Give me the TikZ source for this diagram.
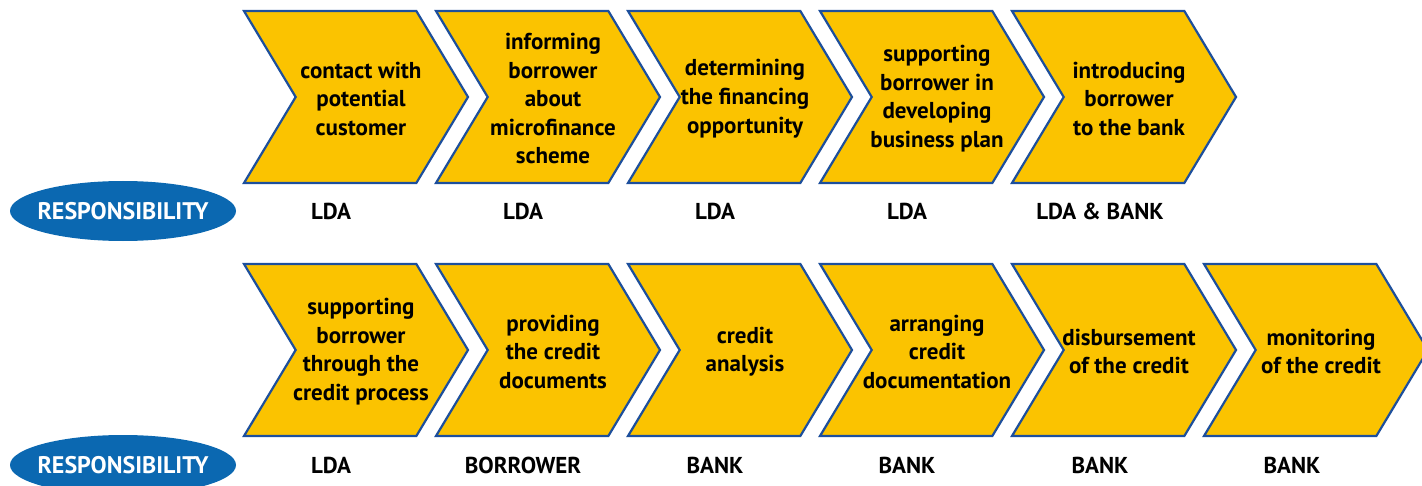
\documentclass[tikz,border=0pt]{standalone}
\usepackage{fontspec}
\setmainfont{PT Sans}
\usetikzlibrary{shapes.symbols,shapes.geometric}
\definecolor{stepyellow}{HTML}{FBC300}
\definecolor{stepblue}{HTML}{1D4F9C}
\definecolor{respblue}{HTML}{0B68B1}
\begin{document}
\begin{tikzpicture}
[x=0.5pt, y=-0.5pt,
every node/.style = {align=center, font=\fontsize{11.5}{14.3}\selectfont\bfseries},
stepbox/.style = {shape=signal, signal from=west, signal to=east,
	signal pointer angle=118, draw=stepblue, line width=1.1pt,
	fill=stepyellow, minimum width=112pt, minimum height=86pt, inner sep=0pt,
	label={[xshift=2.5pt, yshift=-0.8pt]center:#1}},
respbox/.style = {shape=ellipse, fill=respblue, text=white, inner sep=-8pt,
	minimum width=113pt, minimum height=30pt,
	font=\fontsize{12}{14}\selectfont\bfseries}]
  \useasboundingbox (0,0) rectangle (1422,486);

  % first row
  \node[stepbox={contact with\\potential\\customer}] (a1) at (356,97) {};
  \node[stepbox={informing\\borrower\\about\\microfinance\\scheme}] (a2) at (548,97) {};
  \node[stepbox={determining\\the financing\\opportunity}] (a3) at (740,97) {};
  \node[stepbox={supporting\\borrower in\\developing\\business plan}] (a4) at (932,97) {};
  \node[stepbox={introducing\\borrower\\to the bank}] (a5) at (1124,97) {};

  \node[respbox] (ra) at (123,211) {RESPONSIBILITY};
  \node (pa1) at (331,211) {LDA};
  \node (pa2) at (523,211) {LDA};
  \node (pa3) at (715,211) {LDA};
  \node (pa4) at (907,211) {LDA};
  \node (pa5) at (1100,211) {LDA \& BANK};

  % second row
  \node[stepbox={supporting\\borrower\\through the\\credit process}] (b1) at (356,350) {};
  \node[stepbox={providing\\the credit\\documents}] (b2) at (548,350) {};
  \node[stepbox={credit\\analysis}] (b3) at (740,350) {};
  \node[stepbox={arranging\\credit\\documentation}] (b4) at (932,350) {};
  \node[stepbox={disbursement\\of the credit}] (b5) at (1124,350) {};
  \node[stepbox={monitoring\\of the credit}] (b6) at (1316,350) {};

  \node[respbox] (rb) at (123,465) {RESPONSIBILITY};
  \node (pb1) at (331,465) {LDA};
  \node (pb2) at (523,465) {BORROWER};
  \node (pb3) at (715,465) {BANK};
  \node (pb4) at (907,465) {BANK};
  \node (pb5) at (1100,465) {BANK};
  \node (pb6) at (1292,465) {BANK};
\end{tikzpicture}
\end{document}
